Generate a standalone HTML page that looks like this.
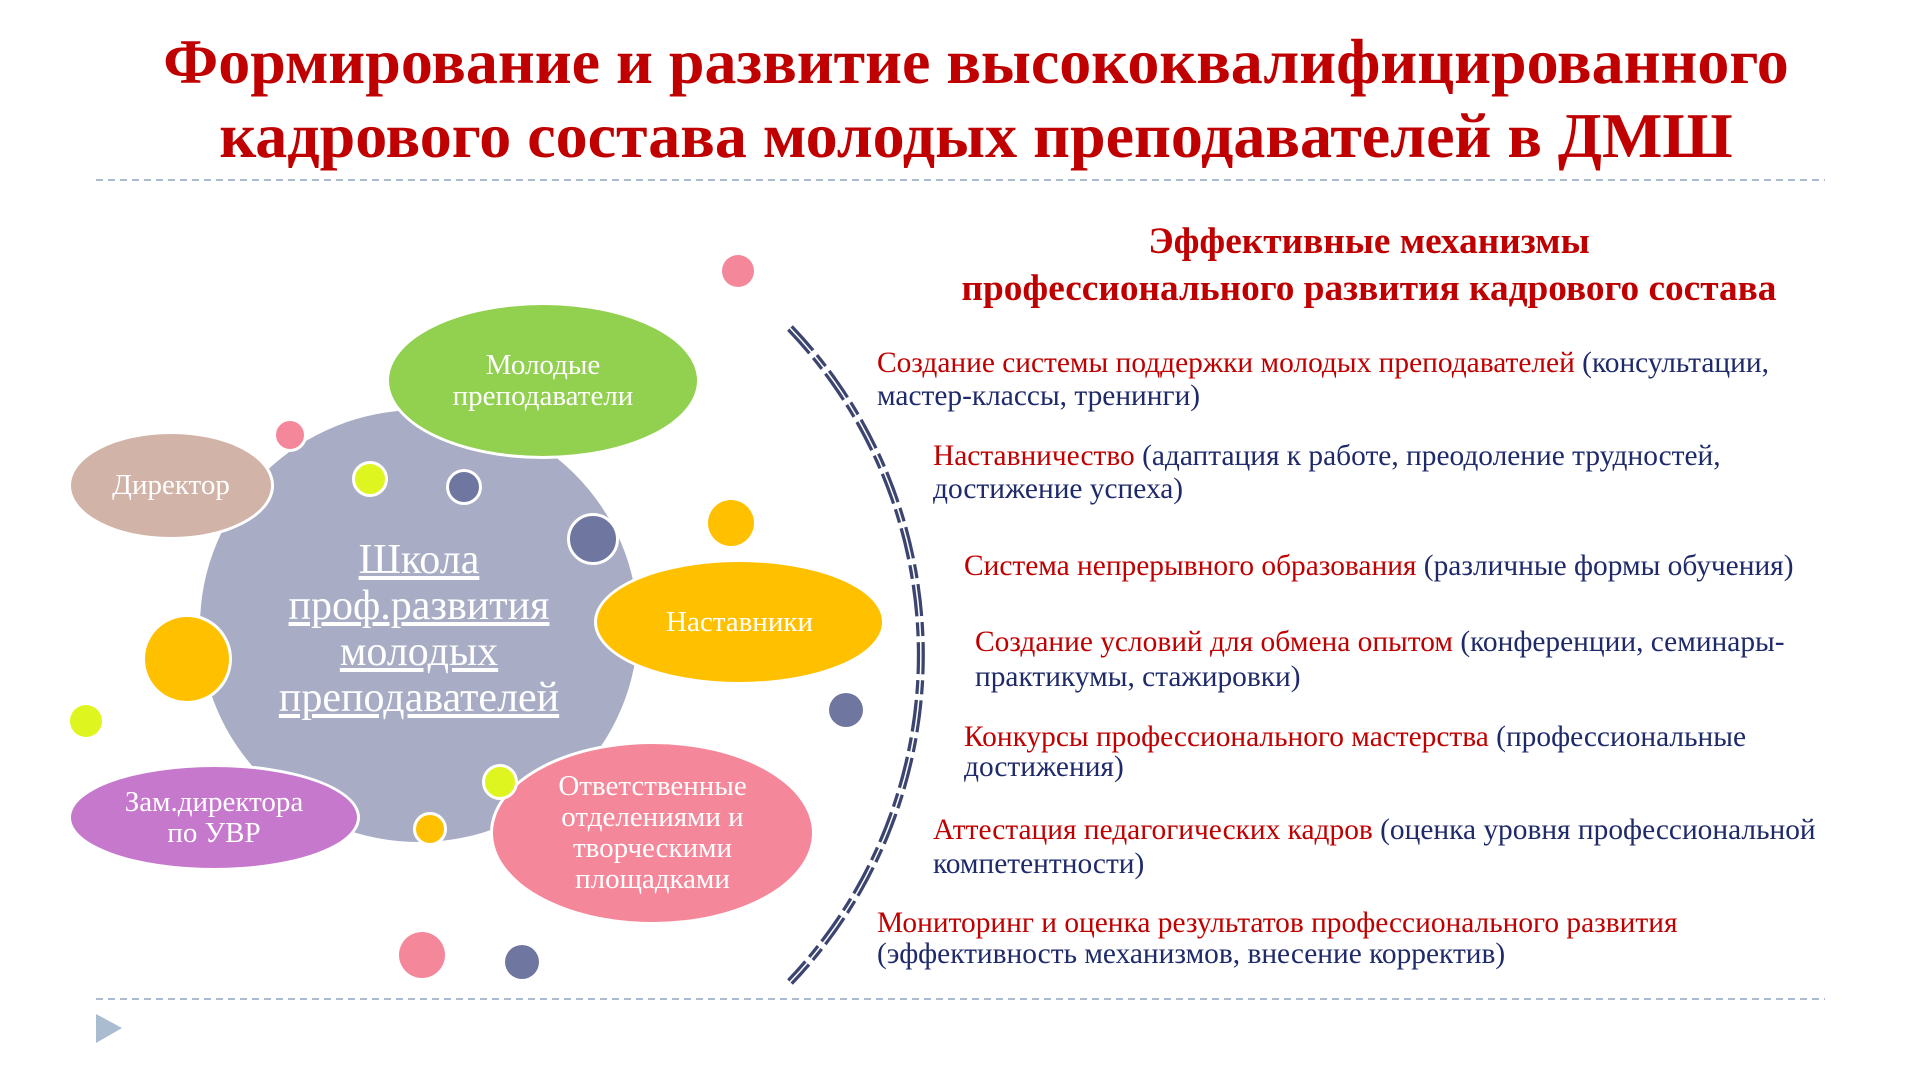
<!DOCTYPE html>
<html><head><meta charset="utf-8"><style>
body{margin:0;width:1920px;height:1080px;background:#fff;position:relative;overflow:hidden;font-family:"Liberation Serif",serif}
.a{position:absolute;white-space:nowrap}
.t{left:0;width:1952px;text-align:center;color:#c00000;font-weight:bold;font-size:64px;line-height:74px}
.h{left:0;width:2738px;text-align:center;color:#c00000;font-weight:bold;font-size:37.3px;line-height:47px}
.it{font-size:29.4px;line-height:33px;color:#1f2a6b}
.it span{color:#c00000}
.el{position:absolute;border-radius:50%;display:flex;align-items:center;justify-content:center;text-align:center;color:#fff;font-size:29px;line-height:31px;box-sizing:border-box;border:3px solid #fff}
.c{position:absolute;border-radius:50%;box-sizing:border-box}
.w{border:3px solid #fff}
</style></head><body>
<div class="a t" style="top:25px">Формирование и развитие высококвалифицированного</div>
<div class="a t" style="top:99px">кадрового состава молодых преподавателей в ДМШ</div>
<svg class="a" style="left:0;top:0" width="1920" height="1080">
<line x1="96" y1="180" x2="1825" y2="180" stroke="#a9bcd0" stroke-width="2" stroke-dasharray="7,5"/>
<line x1="96" y1="999" x2="1825" y2="999" stroke="#a9bcd0" stroke-width="2" stroke-dasharray="7,5"/>
<polygon points="96,1014 122,1028 96,1043" fill="#a9bcd0"/>
<path d="M790,328 A474,474 0 0 1 790,982" fill="none" stroke="#3c4570" stroke-width="8" stroke-dasharray="32,6,14,6"/>
<path d="M790,328 A474,474 0 0 1 790,982" fill="none" stroke="#fff" stroke-width="1.5"/>
</svg>
<div class="c" style="left:200px;top:410px;width:438px;height:432px;background:#a8adc5"></div>
<div class="a" style="left:200px;top:537px;width:438px;text-align:center;color:#fff;font-size:42px;line-height:46px;text-decoration:underline">Школа<br>проф.развития<br>молодых<br>преподавателей</div>
<div class="el" style="left:386px;top:302px;width:314px;height:157px;background:#92d050">Молодые<br>преподаватели</div>
<div class="el" style="left:68px;top:431px;width:206px;height:109px;background:#d2b3a8">Директор</div>
<div class="el" style="left:594px;top:559px;width:291px;height:126px;background:#ffc000">Наставники</div>
<div class="el" style="left:68px;top:764px;width:292px;height:107px;background:#c678cc">Зам.директора<br>по УВР</div>
<div class="el" style="left:490px;top:741px;width:325px;height:184px;background:#f4889a">Ответственные<br>отделениями и<br>творческими<br>площадками</div>
<div class="c w" style="left:273px;top:418px;width:34px;height:34px;background:#f4889a"></div>
<div class="c w" style="left:352px;top:461px;width:36px;height:36px;background:#dff51f"></div>
<div class="c w" style="left:446px;top:469px;width:36px;height:36px;background:#6f77a0"></div>
<div class="c w" style="left:567px;top:513px;width:52px;height:52px;background:#6f77a0"></div>
<div class="c" style="left:708px;top:500px;width:46px;height:46px;background:#ffc000"></div>
<div class="c w" style="left:142px;top:614px;width:90px;height:90px;background:#ffc000"></div>
<div class="c" style="left:70px;top:705px;width:32px;height:32px;background:#dff51f"></div>
<div class="c w" style="left:482px;top:764px;width:36px;height:36px;background:#dff51f"></div>
<div class="c w" style="left:413px;top:812px;width:34px;height:34px;background:#ffc000"></div>
<div class="c" style="left:829px;top:693px;width:34px;height:34px;background:#6f77a0"></div>
<div class="c" style="left:399px;top:932px;width:46px;height:46px;background:#f4889a"></div>
<div class="c" style="left:505px;top:945px;width:34px;height:34px;background:#6f77a0"></div>
<div class="c" style="left:722px;top:255px;width:32px;height:32px;background:#f4889a"></div>
<div class="a h" style="top:218px">Эффективные механизмы<br>профессионального развития кадрового состава</div>
<div class="a it" style="left:877px;top:347px"><span>Создание системы поддержки молодых преподавателей</span> (консультации,<br>мастер-классы, тренинги)</div>
<div class="a it" style="left:933px;top:440px"><span>Наставничество</span> (адаптация к работе, преодоление трудностей,<br>достижение успеха)</div>
<div class="a it" style="left:964px;top:550px"><span>Система непрерывного образования</span> (различные формы обучения)</div>
<div class="a it" style="left:975px;top:625px;line-height:35px"><span>Создание условий для обмена опытом</span> (конференции, семинары-<br>практикумы, стажировки)</div>
<div class="a it" style="left:964px;top:722px;line-height:30px"><span>Конкурсы профессионального мастерства</span> (профессиональные<br>достижения)</div>
<div class="a it" style="left:933px;top:813px;line-height:34px"><span>Аттестация педагогических кадров</span> (оценка уровня профессиональной<br>компетентности)</div>
<div class="a it" style="left:877px;top:908px;line-height:31px"><span>Мониторинг и оценка результатов профессионального развития</span><br>(эффективность механизмов, внесение корректив)</div>
</body></html>
